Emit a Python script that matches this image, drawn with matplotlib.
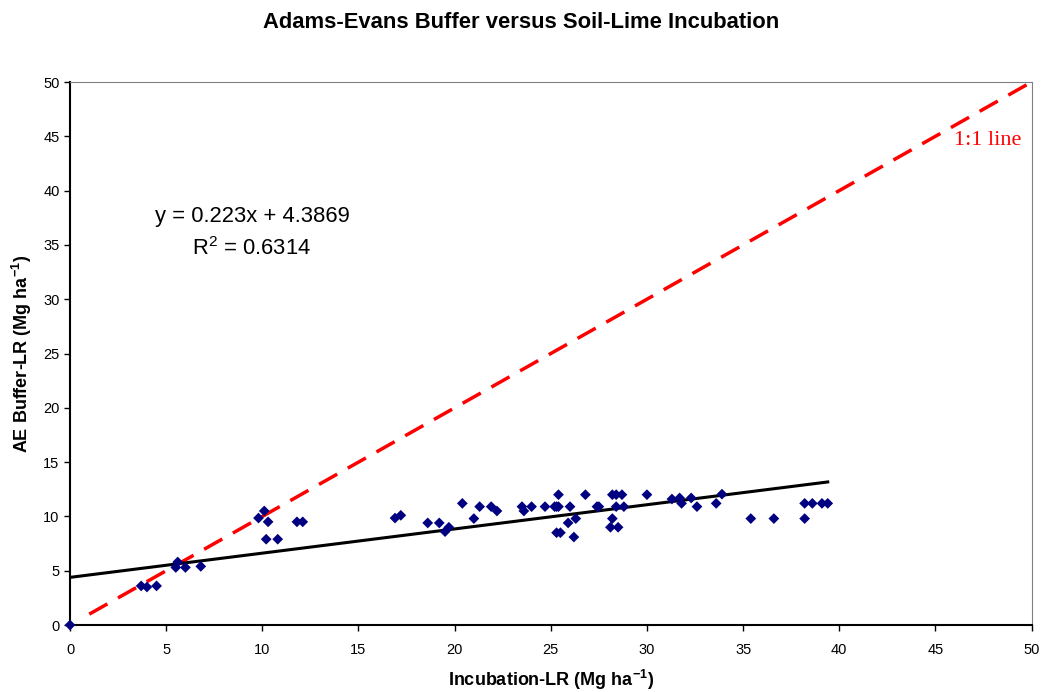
import numpy as np
import matplotlib
matplotlib.use('Agg')
import matplotlib.pyplot as plt

plt.rcParams['font.family'] = ['Liberation Sans', 'DejaVu Sans']

# incubation LR (x) and AE buffer LR (y), Mg/ha
incubation_lr = [0.0, 3.7, 4.0, 4.5, 5.5, 5.6, 6.0, 6.8,
                 9.8, 10.1, 10.3, 10.2, 10.8, 11.8, 12.1,
                 16.9, 17.2, 18.6, 19.2, 19.5, 19.7, 20.4, 21.0, 21.3, 21.9, 22.2,
                 23.5, 23.6, 24.0, 24.7, 25.2, 25.3, 25.4, 25.4, 25.3, 25.5,
                 26.0, 25.9, 26.3, 26.2, 26.8, 27.4, 27.5,
                 28.2, 28.4, 28.7, 28.4, 28.8, 28.2, 28.1, 28.5,
                 30.0, 31.3, 31.7, 31.8, 32.3, 32.6, 33.6, 33.9,
                 35.4, 36.6, 38.2, 38.2, 38.6, 39.1, 39.4]
ae_buffer_lr = [0.0, 3.6, 3.5, 3.6, 5.3, 5.8, 5.3, 5.4,
                9.85, 10.5, 9.5, 7.9, 7.9, 9.5, 9.5,
                9.85, 10.1, 9.4, 9.4, 8.6, 9.0, 11.2, 9.8, 10.9, 10.9, 10.5,
                10.9, 10.5, 10.9, 10.9, 10.9, 10.9, 10.9, 12.0, 8.5, 8.5,
                10.9, 9.4, 9.8, 8.1, 12.0, 10.9, 10.9,
                12.0, 12.0, 12.0, 10.9, 10.9, 9.8, 9.0, 9.0,
                12.0, 11.6, 11.7, 11.2, 11.7, 10.9, 11.2, 12.05,
                9.8, 9.8, 11.2, 9.8, 11.2, 11.2, 11.2]

slope = 0.223
intercept = 4.3869
r_squared = 0.6314

fig = plt.figure(figsize=(10.42, 6.92), dpi=100)
ax = fig.add_axes([0.0672, 0.0968, 0.9228, 0.7847])

# 1:1 line
one_x = np.array([1.0, 50.0])
ax.plot(one_x, one_x, color='#ff0000', lw=2.5, dashes=(6, 3.5), zorder=2)

# trend line
tx = np.array([0.0, max(incubation_lr)])
ax.plot(tx, slope * tx + intercept, color='black', lw=2.2, zorder=3)

ax.scatter(incubation_lr, ae_buffer_lr, marker='D', s=30, color='#000080',
           edgecolors='none', zorder=4, clip_on=False)

ax.set_xlim(0, 50)
ax.set_ylim(0, 50)
ax.set_xticks(range(0, 51, 5))
ax.set_yticks(range(0, 51, 5))
ax.tick_params(direction='out', length=4, labelsize=10.5, width=1)
ax.tick_params(axis='x', pad=9)
for side in ['top', 'right']:
    ax.spines[side].set_color('#808080')
for side in ['left', 'bottom']:
    ax.spines[side].set_linewidth(1.5)

ax.set_xlabel('Incubation-LR (Mg ha$^{\\mathregular{-1}}$)', fontsize=13,
              fontweight='bold', labelpad=8)
ax.set_ylabel('AE Buffer-LR (Mg ha$^{\\mathregular{-1}}$)', fontsize=13,
              fontweight='bold', labelpad=7)
fig.text(0.5, 1 - 23 / 692, 'Adams-Evans Buffer versus Soil-Lime Incubation',
         fontsize=15.8, fontweight='bold', ha='center', va='center')

ax.text(9.46, 37.6, 'y = %.3fx + %.4f' % (slope, intercept), fontsize=15.8,
        ha='center', va='center')
ax.text(9.46, 34.7, 'R$^{\\mathregular{2}}$ = %.4f' % r_squared, fontsize=15.8,
        ha='center', va='center')
ax.text(47.7, 44.6, '1:1 line', fontsize=16, color='#ff0000', ha='center', va='center',
        family='Liberation Serif')

fig.savefig('out.png', dpi=100)
